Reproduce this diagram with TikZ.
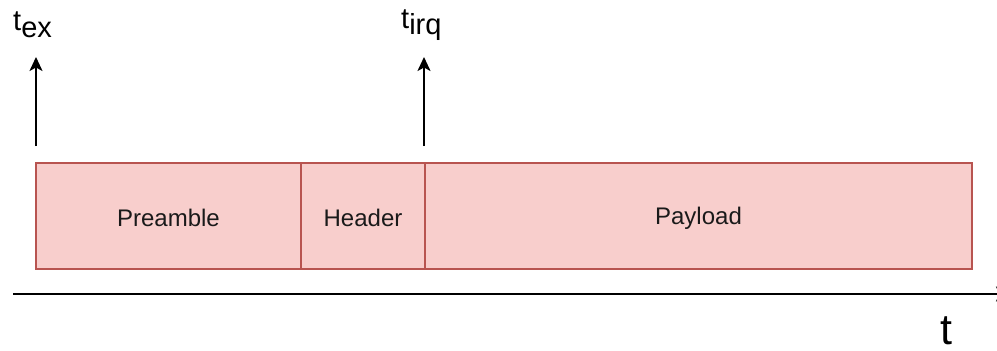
\documentclass[tikz,border=0pt]{standalone}
\usepackage{fontspec}
\setmainfont{Liberation Sans}
\usetikzlibrary{arrows.meta}
\definecolor{boxfill}{HTML}{F8CECC}
\definecolor{boxline}{HTML}{B85450}
\definecolor{txt}{HTML}{1A1A1A}
\begin{document}
\begin{tikzpicture}[x=1pt,y=-1pt,
  field/.style={draw=boxline,fill=boxfill,line width=2.6pt},
  fieldtext/.style={text=txt,font=\fontsize{24}{28}\selectfont},
  marker/.style={-{Stealth[length=14pt,width=13pt,inset=3.5pt]},line width=2pt,black},
  axisline/.style={-{Stealth[length=14pt,width=15pt,inset=3.5pt]},line width=2.4pt,black},
  lbl/.style={anchor=base west,inner sep=0pt,text=black,font=\fontsize{29}{32}\selectfont}]
\useasboundingbox (0,0) rectangle (997,351);
% fields
\draw[field] (36,163) rectangle (301,269);
\draw[field] (301,163) rectangle (425,269);
\draw[field] (425,163) rectangle (972,269);
\node[fieldtext] (pre) at (168.5,218) {Preamble};
\node[fieldtext] (hdr) at (363,218) {Header};
\node[fieldtext] (pay) at (698.5,218) {Payload};
% time axis
\coordinate (axstart) at (13,294);
\coordinate (axend) at (1010,294);
\draw[axisline] (axstart) -- (axend);
\node[anchor=base,inner sep=0pt,text depth=0pt,font=\fontsize{43}{48}\selectfont] (tlab) at (946.5,344) {t};
% markers
\coordinate (exbot) at (36,146);
\coordinate (extop) at (36,57);
\coordinate (irqbot) at (424,146);
\coordinate (irqtop) at (424,57);
\draw[marker] (exbot) -- (extop);
\draw[marker] (irqbot) -- (irqtop);
\node[lbl] (tex) at (13,30) {t\raisebox{-7pt}{ex}};
\node[lbl] (tirq) at (401,28) {t\raisebox{-6pt}{irq}};
\end{tikzpicture}
\end{document}
